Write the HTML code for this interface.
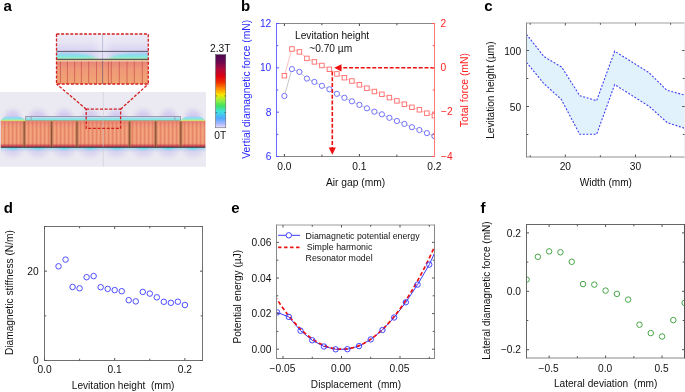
<!DOCTYPE html>
<html><head><meta charset="utf-8"><style>
html,body{margin:0;padding:0;background:#fff;}
svg{display:block;will-change:transform;}
text{font-family:"Liberation Sans", sans-serif;}
</style></head><body>
<svg width="685" height="392" viewBox="0 0 685 392">
<rect width="685" height="392" fill="#fff"/>
<defs>
<pattern id="stripes" width="4" height="30" patternUnits="userSpaceOnUse">
<rect width="4" height="30" fill="#ee9872"/><rect x="0" width="1.1" height="30" fill="#e6846a"/><rect x="2.2" width="1.0" height="30" fill="#f3aa82"/>
</pattern>
<pattern id="stripes2" width="2.2" height="30" patternUnits="userSpaceOnUse">
<rect width="2.2" height="30" fill="#ee9a76"/><rect x="0" width="0.9" height="30" fill="#e98a70"/>
</pattern>
<linearGradient id="orgV" x1="0" y1="0" x2="0" y2="1">
<stop offset="0" stop-color="#e05070" stop-opacity="0.45"/><stop offset="0.15" stop-color="#e06070" stop-opacity="0.12"/><stop offset="0.3" stop-color="#e06070" stop-opacity="0"/><stop offset="0.86" stop-color="#c03050" stop-opacity="0"/><stop offset="0.93" stop-color="#c02848" stop-opacity="0.55"/><stop offset="1" stop-color="#a02040" stop-opacity="0.8"/>
</linearGradient>
<linearGradient id="cb2" x1="0" y1="0" x2="0" y2="1">
<stop offset="0" stop-color="#4c0850"/><stop offset="0.1" stop-color="#6a0850"/><stop offset="0.2" stop-color="#b00838"/><stop offset="0.3" stop-color="#e00010"/><stop offset="0.38" stop-color="#f03000"/><stop offset="0.47" stop-color="#ff9000"/><stop offset="0.55" stop-color="#f8e800"/><stop offset="0.63" stop-color="#90f040"/><stop offset="0.7" stop-color="#40e060"/><stop offset="0.78" stop-color="#40e0e0"/><stop offset="0.87" stop-color="#50a8ff"/><stop offset="0.95" stop-color="#b0b8ff"/><stop offset="1" stop-color="#eae4ff"/>
</linearGradient>
<linearGradient id="insGradL" x1="0" y1="0" x2="1" y2="0">
<stop offset="0" stop-color="#fff" stop-opacity="0"/><stop offset="0.8" stop-color="#fff" stop-opacity="0"/><stop offset="1" stop-color="#e8e4f4" stop-opacity="0.95"/>
</linearGradient>
<linearGradient id="insGradR" x1="0" y1="0" x2="1" y2="0">
<stop offset="0" stop-color="#e8e4f4" stop-opacity="0.95"/><stop offset="0.3" stop-color="#fff" stop-opacity="0"/><stop offset="1" stop-color="#fff" stop-opacity="0"/>
</linearGradient>
<linearGradient id="insGrad" x1="0" y1="0" x2="0" y2="1">
<stop offset="0" stop-color="#d4d0f2"/><stop offset="0.3" stop-color="#b0d0f4"/><stop offset="0.65" stop-color="#84e6ea"/><stop offset="0.88" stop-color="#b8f0c0"/><stop offset="1" stop-color="#e0ec90"/>
</linearGradient>
<linearGradient id="insOrg" x1="0" y1="0" x2="0" y2="1">
<stop offset="0" stop-color="#e88478"/><stop offset="0.3" stop-color="#ee9878"/><stop offset="1" stop-color="#f2a674"/>
</linearGradient>
<linearGradient id="domeI" x1="0" y1="0" x2="0" y2="1">
<stop offset="0" stop-color="#b8c4f4"/><stop offset="0.25" stop-color="#98d4f2"/><stop offset="0.55" stop-color="#74eae6"/><stop offset="0.82" stop-color="#a8f0b8"/><stop offset="1" stop-color="#e8ec78"/>
</linearGradient>
<linearGradient id="cglow" x1="0" y1="0" x2="1" y2="0">
<stop offset="0" stop-color="#f4f2fa" stop-opacity="0"/><stop offset="0.5" stop-color="#f4f2fa" stop-opacity="0.6"/><stop offset="1" stop-color="#f4f2fa" stop-opacity="0"/>
</linearGradient>
<clipPath id="insClip"><rect x="56.5" y="51.4" width="91.8" height="8"/></clipPath>
<filter id="bl1" x="-10%" y="-50%" width="120%" height="200%"><feGaussianBlur stdDeviation="0.8"/></filter>
<linearGradient id="insTop" x1="0" y1="0" x2="0" y2="1">
<stop offset="0" stop-color="#eeedf6"/><stop offset="0.5" stop-color="#e6e3f4"/><stop offset="1" stop-color="#d8d2f2"/>
</linearGradient>
<linearGradient id="plate" x1="0" y1="0" x2="0" y2="1">
<stop offset="0" stop-color="#e0dcf4"/><stop offset="0.3" stop-color="#b8d8f4"/><stop offset="0.6" stop-color="#84e6ea"/><stop offset="1" stop-color="#8ce8cc"/>
</linearGradient>
<radialGradient id="haze" cx="0.5" cy="0.5" r="0.5">
<stop offset="0" stop-color="#c4baf0"/><stop offset="0.55" stop-color="#d2caf0" stop-opacity="0.7"/><stop offset="1" stop-color="#e4e2f0" stop-opacity="0"/>
</radialGradient>
<radialGradient id="hazeD" cx="0.5" cy="0.5" r="0.5">
<stop offset="0" stop-color="#cfc6f0"/><stop offset="0.6" stop-color="#d8d2f0" stop-opacity="0.6"/><stop offset="1" stop-color="#e4e2f0" stop-opacity="0"/>
</radialGradient>
<radialGradient id="glowU" cx="0.5" cy="0.5" r="0.5">
<stop offset="0" stop-color="#f0e060"/><stop offset="0.25" stop-color="#70e4e0"/><stop offset="0.6" stop-color="#a0c8f4" stop-opacity="0.6"/><stop offset="1" stop-color="#d8d0f0" stop-opacity="0"/>
</radialGradient>
<radialGradient id="glowC" cx="0.5" cy="0.5" r="0.5">
<stop offset="0" stop-color="#60e4e0"/><stop offset="0.5" stop-color="#80d8ec" stop-opacity="0.7"/><stop offset="1" stop-color="#c0d0f0" stop-opacity="0"/>
</radialGradient>
<linearGradient id="domeG" x1="0" y1="0" x2="0" y2="1">
<stop offset="0" stop-color="#c8c4f2" stop-opacity="0.3"/><stop offset="0.35" stop-color="#a0d4f4"/><stop offset="0.65" stop-color="#7ee8e0"/><stop offset="0.88" stop-color="#c8f080"/><stop offset="1" stop-color="#f0e860"/>
</linearGradient>
<linearGradient id="cyanD" x1="0" y1="0" x2="0" y2="1">
<stop offset="0" stop-color="#6ee2dc"/><stop offset="0.3" stop-color="#90d0f0" stop-opacity="0.8"/><stop offset="1" stop-color="#d0c8f0" stop-opacity="0"/>
</linearGradient>
</defs>
<rect x="0" y="92" width="206" height="74.7" fill="#ebe9f1"/>
<ellipse cx="12.7" cy="120" rx="12.3" ry="15" fill="url(#haze)"/>
<ellipse cx="12.7" cy="148" rx="14.2" ry="13" fill="url(#hazeD)"/>
<ellipse cx="37.9" cy="120" rx="13.9" ry="15" fill="url(#haze)"/>
<ellipse cx="37.9" cy="148" rx="16.0" ry="13" fill="url(#hazeD)"/>
<ellipse cx="64.2" cy="120" rx="13.5" ry="15" fill="url(#haze)"/>
<ellipse cx="64.2" cy="148" rx="15.6" ry="13" fill="url(#hazeD)"/>
<ellipse cx="90.2" cy="120" rx="13.6" ry="15" fill="url(#haze)"/>
<ellipse cx="90.2" cy="148" rx="15.7" ry="13" fill="url(#hazeD)"/>
<ellipse cx="116.6" cy="120" rx="13.8" ry="15" fill="url(#haze)"/>
<ellipse cx="116.6" cy="148" rx="16.0" ry="13" fill="url(#hazeD)"/>
<ellipse cx="143.1" cy="120" rx="13.7" ry="15" fill="url(#haze)"/>
<ellipse cx="143.1" cy="148" rx="15.8" ry="13" fill="url(#hazeD)"/>
<ellipse cx="168.6" cy="120" rx="12.7" ry="15" fill="url(#haze)"/>
<ellipse cx="168.6" cy="148" rx="14.7" ry="13" fill="url(#hazeD)"/>
<ellipse cx="193.1" cy="120" rx="12.7" ry="15" fill="url(#haze)"/>
<ellipse cx="193.1" cy="148" rx="14.7" ry="13" fill="url(#hazeD)"/>
<path d="M0.8,121 C2.5,113.5 22.5,113.5 25.6,121 Z" fill="url(#domeG)"/>
<path d="M180.6,121 C183.5,113.5 203,113.5 205.3,121 Z" fill="url(#domeG)"/>
<rect x="0.8" y="147.4" width="204.5" height="5" fill="url(#cyanD)" opacity="0.75"/>
<ellipse cx="12.7" cy="147.6" rx="9.5" ry="3.8" fill="url(#glowC)"/>
<ellipse cx="37.9" cy="147.6" rx="10.7" ry="3.8" fill="url(#glowC)"/>
<ellipse cx="64.2" cy="147.6" rx="10.4" ry="3.8" fill="url(#glowC)"/>
<ellipse cx="90.2" cy="147.6" rx="10.4" ry="3.8" fill="url(#glowC)"/>
<ellipse cx="116.6" cy="147.6" rx="10.6" ry="3.8" fill="url(#glowC)"/>
<ellipse cx="143.1" cy="147.6" rx="10.6" ry="3.8" fill="url(#glowC)"/>
<ellipse cx="168.6" cy="147.6" rx="9.8" ry="3.8" fill="url(#glowC)"/>
<ellipse cx="193.1" cy="147.6" rx="9.8" ry="3.8" fill="url(#glowC)"/>
<rect x="25.7" y="116.4" width="154.9" height="4.2" fill="url(#plate)" stroke="#80808a" stroke-width="0.7"/>
<line x1="31.2" y1="116.4" x2="31.2" y2="120.6" stroke="#8a8a9a" stroke-width="0.6"/>
<line x1="174.9" y1="116.4" x2="174.9" y2="120.6" stroke="#8a8a9a" stroke-width="0.6"/>
<rect x="0.8" y="121" width="204.5" height="26" fill="url(#stripes)"/>
<rect x="0.8" y="121" width="204.5" height="26" fill="url(#orgV)"/>
<rect x="22.599999999999998" y="121" width="3.2" height="26" fill="#b07050" opacity="0.65"/>
<rect x="23.7" y="121" width="1" height="26.5" fill="#6a3a20" opacity="0.65"/>
<rect x="49.9" y="121" width="3.2" height="26" fill="#b07050" opacity="0.65"/>
<rect x="51.0" y="121" width="1" height="26.5" fill="#6a3a20" opacity="0.65"/>
<rect x="75.4" y="121" width="3.2" height="26" fill="#b07050" opacity="0.65"/>
<rect x="76.5" y="121" width="1" height="26.5" fill="#6a3a20" opacity="0.65"/>
<rect x="128.0" y="121" width="3.2" height="26" fill="#b07050" opacity="0.65"/>
<rect x="129.1" y="121" width="1" height="26.5" fill="#6a3a20" opacity="0.65"/>
<rect x="154.0" y="121" width="3.2" height="26" fill="#b07050" opacity="0.65"/>
<rect x="155.1" y="121" width="1" height="26.5" fill="#6a3a20" opacity="0.65"/>
<rect x="179.20000000000002" y="121" width="3.2" height="26" fill="#b07050" opacity="0.65"/>
<rect x="180.3" y="121" width="1" height="26.5" fill="#6a3a20" opacity="0.65"/>
<line x1="103.3" y1="92" x2="103.3" y2="166.7" stroke="#c4c4d4" stroke-width="0.5"/>
<line x1="0.8" y1="147.3" x2="205.3" y2="147.3" stroke="#2a2a2a" stroke-width="0.9"/>
<line x1="0.8" y1="120.9" x2="205.3" y2="120.9" stroke="#c8c870" stroke-width="0.6"/>
<rect x="86.2" y="109.2" width="34.4" height="19.1" fill="none" stroke="#d21f1f" stroke-width="1.3" stroke-dasharray="3 1.6"/>
<line x1="86.2" y1="109.2" x2="56.5" y2="84" stroke="#d21f1f" stroke-width="1.3" stroke-dasharray="3 1.6"/>
<line x1="120.6" y1="109.2" x2="148.3" y2="84" stroke="#d21f1f" stroke-width="1.3" stroke-dasharray="3 1.6"/>
<rect x="56.5" y="34" width="91.8" height="17.4" fill="url(#insTop)"/>
<rect x="56.5" y="51.4" width="91.8" height="8" fill="#d6d2f2"/>
<g clip-path="url(#insClip)"><g filter="url(#bl1)">
<path d="M55,60 L55,53 C62,51.8 88,51.6 101.5,60 Z" fill="url(#domeI)"/>
<path d="M103.7,60 C117,51.6 142,51.8 150,53 L150,60 Z" fill="url(#domeI)"/>
</g></g>
<rect x="92" y="34" width="21" height="25.3" fill="url(#cglow)"/>
<rect x="56.5" y="59.6" width="91.8" height="2" fill="#e8c890"/>
<rect x="56.5" y="61.5" width="91.8" height="22.5" fill="url(#insOrg)"/>
<line x1="60.5" y1="61.5" x2="60.5" y2="84" stroke="#c84a48" stroke-width="0.65"/>
<line x1="67.4" y1="61.5" x2="67.4" y2="84" stroke="#c84a48" stroke-width="0.65"/>
<line x1="74.6" y1="61.5" x2="74.6" y2="84" stroke="#c84a48" stroke-width="0.65"/>
<line x1="81.4" y1="61.5" x2="81.4" y2="84" stroke="#c84a48" stroke-width="0.65"/>
<line x1="88.7" y1="61.5" x2="88.7" y2="84" stroke="#c84a48" stroke-width="0.65"/>
<line x1="96.5" y1="61.5" x2="96.5" y2="84" stroke="#c84a48" stroke-width="0.65"/>
<line x1="108.4" y1="61.5" x2="108.4" y2="84" stroke="#c84a48" stroke-width="0.65"/>
<line x1="111.3" y1="61.5" x2="111.3" y2="84" stroke="#c84a48" stroke-width="0.65"/>
<line x1="119.3" y1="61.5" x2="119.3" y2="84" stroke="#c84a48" stroke-width="0.65"/>
<line x1="127" y1="61.5" x2="127" y2="84" stroke="#c84a48" stroke-width="0.65"/>
<line x1="134.3" y1="61.5" x2="134.3" y2="84" stroke="#c84a48" stroke-width="0.65"/>
<line x1="142.3" y1="61.5" x2="142.3" y2="84" stroke="#c84a48" stroke-width="0.65"/>
<line x1="102.6" y1="34" x2="102.6" y2="61" stroke="#b0b4d0" stroke-width="0.8"/>
<line x1="102.6" y1="61" x2="102.6" y2="84" stroke="#806070" stroke-width="0.8"/>
<line x1="56.5" y1="51.4" x2="148.3" y2="51.4" stroke="#5a5a68" stroke-width="1"/>
<line x1="56.5" y1="59.3" x2="148.3" y2="59.3" stroke="#3a3a40" stroke-width="1"/>
<rect x="56.5" y="34" width="91.8" height="50" fill="none" stroke="#d21f1f" stroke-width="1.3" stroke-dasharray="3 1.6"/>
<rect x="215.6" y="54.6" width="10.2" height="73.2" fill="url(#cb2)" stroke="#555" stroke-width="0.5"/>
<line x1="215.6" y1="74" x2="217" y2="74" stroke="#333" stroke-width="0.6"/>
<line x1="224.4" y1="74" x2="225.8" y2="74" stroke="#333" stroke-width="0.6"/>
<line x1="215.6" y1="95.9" x2="217" y2="95.9" stroke="#333" stroke-width="0.6"/>
<line x1="224.4" y1="95.9" x2="225.8" y2="95.9" stroke="#333" stroke-width="0.6"/>
<line x1="215.6" y1="112.6" x2="217" y2="112.6" stroke="#333" stroke-width="0.6"/>
<line x1="224.4" y1="112.6" x2="225.8" y2="112.6" stroke="#333" stroke-width="0.6"/>
<text x="220.3" y="51.5" font-size="10.2" text-anchor="middle" fill="#111">2.3T</text>
<text x="220.3" y="138.6" font-size="10.2" text-anchor="middle" fill="#111">0T</text>
<text x="3.60" y="10.80" font-size="15" text-anchor="start" fill="#000" font-weight="bold" >a</text>
<text x="241.00" y="10.60" font-size="15" text-anchor="start" fill="#000" font-weight="bold" >b</text>
<text x="484.30" y="10.70" font-size="15" text-anchor="start" fill="#000" font-weight="bold" >c</text>
<text x="3.80" y="213.20" font-size="15" text-anchor="start" fill="#000" font-weight="bold" >d</text>
<text x="231.20" y="213.20" font-size="15" text-anchor="start" fill="#000" font-weight="bold" >e</text>
<text x="480.60" y="213.20" font-size="15" text-anchor="start" fill="#000" font-weight="bold" >f</text>
<clipPath id="cb"><rect x="276.5" y="23.5" width="158.0" height="133.0"/></clipPath>
<g clip-path="url(#cb)">
<polyline points="284.40,75.7 291.90,49 299.40,51.9 306.90,58.4 314.40,61.9 321.90,65.5 329.40,69.3 336.90,73.9 344.40,77.7 351.90,81 359.40,84.8 366.90,88.2 374.40,91.5 381.90,94.3 389.40,97.6 396.90,100.9 404.40,104.2 411.90,107.3 419.40,109.8 426.90,113.2 434.40,115.7" fill="none" stroke="#ffb0b0" stroke-width="0.8"/>
<polyline points="284.40,96 291.90,69.1 299.40,71.9 306.90,78.6 314.40,81.9 321.90,85.8 329.40,89.3 336.90,93.8 344.40,97.8 351.90,101.3 359.40,104.9 366.90,108.3 374.40,111.7 381.90,114.3 389.40,117.8 396.90,121 404.40,123.9 411.90,127.2 419.40,130 426.90,133.1 434.40,136.1" fill="none" stroke="#b8b8b8" stroke-width="0.8"/>
<rect x="282.15" y="73.45" width="4.5" height="4.5" fill="#fff" stroke="#ff6a6a" stroke-width="0.9"/>
<rect x="289.65" y="46.75" width="4.5" height="4.5" fill="#fff" stroke="#ff6a6a" stroke-width="0.9"/>
<rect x="297.15" y="49.65" width="4.5" height="4.5" fill="#fff" stroke="#ff6a6a" stroke-width="0.9"/>
<rect x="304.65" y="56.15" width="4.5" height="4.5" fill="#fff" stroke="#ff6a6a" stroke-width="0.9"/>
<rect x="312.15" y="59.65" width="4.5" height="4.5" fill="#fff" stroke="#ff6a6a" stroke-width="0.9"/>
<rect x="319.65" y="63.25" width="4.5" height="4.5" fill="#fff" stroke="#ff6a6a" stroke-width="0.9"/>
<rect x="327.15" y="67.05" width="4.5" height="4.5" fill="#fff" stroke="#ff6a6a" stroke-width="0.9"/>
<rect x="334.65" y="71.65" width="4.5" height="4.5" fill="#fff" stroke="#ff6a6a" stroke-width="0.9"/>
<rect x="342.15" y="75.45" width="4.5" height="4.5" fill="#fff" stroke="#ff6a6a" stroke-width="0.9"/>
<rect x="349.65" y="78.75" width="4.5" height="4.5" fill="#fff" stroke="#ff6a6a" stroke-width="0.9"/>
<rect x="357.15" y="82.55" width="4.5" height="4.5" fill="#fff" stroke="#ff6a6a" stroke-width="0.9"/>
<rect x="364.65" y="85.95" width="4.5" height="4.5" fill="#fff" stroke="#ff6a6a" stroke-width="0.9"/>
<rect x="372.15" y="89.25" width="4.5" height="4.5" fill="#fff" stroke="#ff6a6a" stroke-width="0.9"/>
<rect x="379.65" y="92.05" width="4.5" height="4.5" fill="#fff" stroke="#ff6a6a" stroke-width="0.9"/>
<rect x="387.15" y="95.35" width="4.5" height="4.5" fill="#fff" stroke="#ff6a6a" stroke-width="0.9"/>
<rect x="394.65" y="98.65" width="4.5" height="4.5" fill="#fff" stroke="#ff6a6a" stroke-width="0.9"/>
<rect x="402.15" y="101.95" width="4.5" height="4.5" fill="#fff" stroke="#ff6a6a" stroke-width="0.9"/>
<rect x="409.65" y="105.05" width="4.5" height="4.5" fill="#fff" stroke="#ff6a6a" stroke-width="0.9"/>
<rect x="417.15" y="107.55" width="4.5" height="4.5" fill="#fff" stroke="#ff6a6a" stroke-width="0.9"/>
<rect x="424.65" y="110.95" width="4.5" height="4.5" fill="#fff" stroke="#ff6a6a" stroke-width="0.9"/>
<rect x="432.15" y="113.45" width="4.5" height="4.5" fill="#fff" stroke="#ff6a6a" stroke-width="0.9"/>
<circle cx="284.40" cy="96" r="2.6" fill="#fff" stroke="#6262ff" stroke-width="0.9"/>
<circle cx="291.90" cy="69.1" r="2.6" fill="#fff" stroke="#6262ff" stroke-width="0.9"/>
<circle cx="299.40" cy="71.9" r="2.6" fill="#fff" stroke="#6262ff" stroke-width="0.9"/>
<circle cx="306.90" cy="78.6" r="2.6" fill="#fff" stroke="#6262ff" stroke-width="0.9"/>
<circle cx="314.40" cy="81.9" r="2.6" fill="#fff" stroke="#6262ff" stroke-width="0.9"/>
<circle cx="321.90" cy="85.8" r="2.6" fill="#fff" stroke="#6262ff" stroke-width="0.9"/>
<circle cx="329.40" cy="89.3" r="2.6" fill="#fff" stroke="#6262ff" stroke-width="0.9"/>
<circle cx="336.90" cy="93.8" r="2.6" fill="#fff" stroke="#6262ff" stroke-width="0.9"/>
<circle cx="344.40" cy="97.8" r="2.6" fill="#fff" stroke="#6262ff" stroke-width="0.9"/>
<circle cx="351.90" cy="101.3" r="2.6" fill="#fff" stroke="#6262ff" stroke-width="0.9"/>
<circle cx="359.40" cy="104.9" r="2.6" fill="#fff" stroke="#6262ff" stroke-width="0.9"/>
<circle cx="366.90" cy="108.3" r="2.6" fill="#fff" stroke="#6262ff" stroke-width="0.9"/>
<circle cx="374.40" cy="111.7" r="2.6" fill="#fff" stroke="#6262ff" stroke-width="0.9"/>
<circle cx="381.90" cy="114.3" r="2.6" fill="#fff" stroke="#6262ff" stroke-width="0.9"/>
<circle cx="389.40" cy="117.8" r="2.6" fill="#fff" stroke="#6262ff" stroke-width="0.9"/>
<circle cx="396.90" cy="121" r="2.6" fill="#fff" stroke="#6262ff" stroke-width="0.9"/>
<circle cx="404.40" cy="123.9" r="2.6" fill="#fff" stroke="#6262ff" stroke-width="0.9"/>
<circle cx="411.90" cy="127.2" r="2.6" fill="#fff" stroke="#6262ff" stroke-width="0.9"/>
<circle cx="419.40" cy="130" r="2.6" fill="#fff" stroke="#6262ff" stroke-width="0.9"/>
<circle cx="426.90" cy="133.1" r="2.6" fill="#fff" stroke="#6262ff" stroke-width="0.9"/>
<circle cx="434.40" cy="136.1" r="2.6" fill="#fff" stroke="#6262ff" stroke-width="0.9"/>
</g>
<line x1="434.30" y1="67.80" x2="340.50" y2="67.80" stroke="#ee1111" stroke-width="1.6" stroke-dasharray="4 1.8"/>
<polygon points="334.2,67.8 341.5,64.2 341.5,71.4" fill="#ee1111"/>
<line x1="332.30" y1="71.50" x2="332.30" y2="148.00" stroke="#ee1111" stroke-width="1.6" stroke-dasharray="4 1.8"/>
<polygon points="332.3,154.8 328.7,147.5 335.9,147.5" fill="#ee1111"/>
<line x1="276.50" y1="23.50" x2="434.50" y2="23.50" stroke="#888" stroke-width="1" />
<line x1="276.50" y1="156.50" x2="434.50" y2="156.50" stroke="#888" stroke-width="1" />
<line x1="276.50" y1="23.00" x2="276.50" y2="157.00" stroke="#6a6aff" stroke-width="1" />
<line x1="434.50" y1="23.00" x2="434.50" y2="157.00" stroke="#ff7a7a" stroke-width="1" />
<line x1="284.40" y1="23.50" x2="284.40" y2="26.00" stroke="#444" stroke-width="1" />
<line x1="284.40" y1="156.50" x2="284.40" y2="154.00" stroke="#444" stroke-width="1" />
<line x1="321.90" y1="23.50" x2="321.90" y2="25.30" stroke="#444" stroke-width="1" />
<line x1="321.90" y1="156.50" x2="321.90" y2="154.70" stroke="#444" stroke-width="1" />
<line x1="359.40" y1="23.50" x2="359.40" y2="26.00" stroke="#444" stroke-width="1" />
<line x1="359.40" y1="156.50" x2="359.40" y2="154.00" stroke="#444" stroke-width="1" />
<line x1="396.90" y1="23.50" x2="396.90" y2="25.30" stroke="#444" stroke-width="1" />
<line x1="396.90" y1="156.50" x2="396.90" y2="154.70" stroke="#444" stroke-width="1" />
<line x1="276.50" y1="23.50" x2="279.00" y2="23.50" stroke="#5555ff" stroke-width="1" />
<line x1="434.50" y1="23.50" x2="432.00" y2="23.50" stroke="#ff5555" stroke-width="1" />
<line x1="276.50" y1="45.67" x2="278.30" y2="45.67" stroke="#5555ff" stroke-width="1" />
<line x1="434.50" y1="45.67" x2="432.70" y2="45.67" stroke="#ff5555" stroke-width="1" />
<line x1="276.50" y1="67.83" x2="279.00" y2="67.83" stroke="#5555ff" stroke-width="1" />
<line x1="434.50" y1="67.83" x2="432.00" y2="67.83" stroke="#ff5555" stroke-width="1" />
<line x1="276.50" y1="90.00" x2="278.30" y2="90.00" stroke="#5555ff" stroke-width="1" />
<line x1="434.50" y1="90.00" x2="432.70" y2="90.00" stroke="#ff5555" stroke-width="1" />
<line x1="276.50" y1="112.17" x2="279.00" y2="112.17" stroke="#5555ff" stroke-width="1" />
<line x1="434.50" y1="112.17" x2="432.00" y2="112.17" stroke="#ff5555" stroke-width="1" />
<line x1="276.50" y1="134.33" x2="278.30" y2="134.33" stroke="#5555ff" stroke-width="1" />
<line x1="434.50" y1="134.33" x2="432.70" y2="134.33" stroke="#ff5555" stroke-width="1" />
<line x1="276.50" y1="156.50" x2="279.00" y2="156.50" stroke="#5555ff" stroke-width="1" />
<line x1="434.50" y1="156.50" x2="432.00" y2="156.50" stroke="#ff5555" stroke-width="1" />
<text x="271.30" y="27.10" font-size="10.2" text-anchor="end" fill="#2b2bff" font-weight="normal" >12</text>
<text x="271.30" y="71.43" font-size="10.2" text-anchor="end" fill="#2b2bff" font-weight="normal" >10</text>
<text x="271.30" y="115.77" font-size="10.2" text-anchor="end" fill="#2b2bff" font-weight="normal" >8</text>
<text x="271.30" y="160.10" font-size="10.2" text-anchor="end" fill="#2b2bff" font-weight="normal" >6</text>
<text x="440.40" y="27.10" font-size="10.2" text-anchor="start" fill="#ff2020" font-weight="normal" >2</text>
<text x="440.40" y="71.43" font-size="10.2" text-anchor="start" fill="#ff2020" font-weight="normal" >0</text>
<text x="441.00" y="114.87" font-size="10.2" text-anchor="start" fill="#ff2020" font-weight="normal" >−2</text>
<text x="441.00" y="160.00" font-size="10.2" text-anchor="start" fill="#ff2020" font-weight="normal" >−4</text>
<text x="284.40" y="169.80" font-size="10.2" text-anchor="middle" fill="#111" font-weight="normal" >0.0</text>
<text x="359.40" y="169.80" font-size="10.2" text-anchor="middle" fill="#111" font-weight="normal" >0.1</text>
<text x="434.40" y="169.80" font-size="10.2" text-anchor="middle" fill="#111" font-weight="normal" >0.2</text>
<text x="355.60" y="185.80" font-size="10.25" text-anchor="middle" fill="#111" font-weight="normal" >Air gap (mm)</text>
<text transform="translate(250.20,89.25) rotate(-90)" font-size="10.34" text-anchor="middle" fill="#2b2bff">Vertial diamagnetic force (mN)</text>
<text transform="translate(467.70,90.05) rotate(-90)" font-size="10.45" text-anchor="middle" fill="#ff2020">Total force (mN)</text>
<text x="295.00" y="39.00" font-size="10.2" text-anchor="start" fill="#111" font-weight="normal" >Levitation height</text>
<text x="309.20" y="51.60" font-size="10.2" text-anchor="start" fill="#111" font-weight="normal" >~0.70 µm</text>
<clipPath id="cc"><rect x="526.5" y="23.0" width="160.10000000000002" height="134.0"/></clipPath>
<g clip-path="url(#cc)">
<polygon points="526.4,34.3 544,56.6 561.7,67.1 579.7,95.7 596.6,100.7 614.7,51.2 648.9,72.6 666.8,90.2 686,95.5 686,128.7 667.2,122.6 649.4,106.5 614.7,84.6 596.6,134.3 579.7,134.3 561.3,99.4 544,83.7 526.4,62.3" fill="#e2f2fd" stroke="none"/>
<polyline points="526.4,34.3 544,56.6 561.7,67.1 579.7,95.7 596.6,100.7 614.7,51.2 648.9,72.6 666.8,90.2 686,95.5" fill="none" stroke="#4040f0" stroke-width="1.1" stroke-dasharray="2 1.6"/>
<polyline points="526.4,62.3 544,83.7 561.3,99.4 579.7,134.3 596.6,134.3 614.7,84.6 649.4,106.5 667.2,122.6 686,128.7" fill="none" stroke="#4040f0" stroke-width="1.1" stroke-dasharray="2 1.6"/>
</g>
<line x1="526.50" y1="23.00" x2="686.00" y2="23.00" stroke="#a0a0a0" stroke-width="1" />
<line x1="526.50" y1="157.00" x2="686.00" y2="157.00" stroke="#909090" stroke-width="1" />
<line x1="526.50" y1="22.50" x2="526.50" y2="157.50" stroke="#888" stroke-width="1" />
<line x1="684.60" y1="23.00" x2="684.60" y2="157.00" stroke="#eee" stroke-width="1" />
<line x1="530.20" y1="23.00" x2="530.20" y2="24.80" stroke="#555" stroke-width="1" />
<line x1="530.20" y1="157.00" x2="530.20" y2="155.20" stroke="#555" stroke-width="1" />
<line x1="565.30" y1="23.00" x2="565.30" y2="25.50" stroke="#555" stroke-width="1" />
<line x1="565.30" y1="157.00" x2="565.30" y2="154.50" stroke="#555" stroke-width="1" />
<line x1="600.40" y1="23.00" x2="600.40" y2="24.80" stroke="#555" stroke-width="1" />
<line x1="600.40" y1="157.00" x2="600.40" y2="155.20" stroke="#555" stroke-width="1" />
<line x1="635.50" y1="23.00" x2="635.50" y2="25.50" stroke="#555" stroke-width="1" />
<line x1="635.50" y1="157.00" x2="635.50" y2="154.50" stroke="#555" stroke-width="1" />
<line x1="670.60" y1="23.00" x2="670.60" y2="24.80" stroke="#555" stroke-width="1" />
<line x1="670.60" y1="157.00" x2="670.60" y2="155.20" stroke="#555" stroke-width="1" />
<line x1="526.50" y1="134.50" x2="528.30" y2="134.50" stroke="#555" stroke-width="1" />
<line x1="684.60" y1="134.50" x2="682.80" y2="134.50" stroke="#555" stroke-width="1" />
<line x1="526.50" y1="106.50" x2="529.00" y2="106.50" stroke="#555" stroke-width="1" />
<line x1="684.60" y1="106.50" x2="682.10" y2="106.50" stroke="#555" stroke-width="1" />
<line x1="526.50" y1="78.50" x2="528.30" y2="78.50" stroke="#555" stroke-width="1" />
<line x1="684.60" y1="78.50" x2="682.80" y2="78.50" stroke="#555" stroke-width="1" />
<line x1="526.50" y1="50.50" x2="529.00" y2="50.50" stroke="#555" stroke-width="1" />
<line x1="684.60" y1="50.50" x2="682.10" y2="50.50" stroke="#555" stroke-width="1" />
<text x="521.20" y="55.20" font-size="10.2" text-anchor="end" fill="#111" font-weight="normal" >100</text>
<text x="521.20" y="111.20" font-size="10.2" text-anchor="end" fill="#111" font-weight="normal" >50</text>
<text x="565.30" y="169.80" font-size="10.2" text-anchor="middle" fill="#111" font-weight="normal" >20</text>
<text x="635.50" y="169.80" font-size="10.2" text-anchor="middle" fill="#111" font-weight="normal" >30</text>
<text x="605.85" y="186.20" font-size="10.15" text-anchor="middle" fill="#111" font-weight="normal" >Width (mm)</text>
<text transform="translate(493.80,90.10) rotate(-90)" font-size="10.1" text-anchor="middle" fill="#111">Levitation height (µm)</text>
<circle cx="58.54" cy="266.3" r="2.75" fill="none" stroke="#4545ff" stroke-width="0.95"/>
<circle cx="65.56" cy="259.6" r="2.75" fill="none" stroke="#4545ff" stroke-width="0.95"/>
<circle cx="72.58" cy="287" r="2.75" fill="none" stroke="#4545ff" stroke-width="0.95"/>
<circle cx="79.60" cy="288.3" r="2.75" fill="none" stroke="#4545ff" stroke-width="0.95"/>
<circle cx="86.62" cy="277.2" r="2.75" fill="none" stroke="#4545ff" stroke-width="0.95"/>
<circle cx="93.64" cy="276.1" r="2.75" fill="none" stroke="#4545ff" stroke-width="0.95"/>
<circle cx="100.66" cy="287.2" r="2.75" fill="none" stroke="#4545ff" stroke-width="0.95"/>
<circle cx="107.68" cy="288.9" r="2.75" fill="none" stroke="#4545ff" stroke-width="0.95"/>
<circle cx="114.70" cy="290.1" r="2.75" fill="none" stroke="#4545ff" stroke-width="0.95"/>
<circle cx="121.72" cy="291.2" r="2.75" fill="none" stroke="#4545ff" stroke-width="0.95"/>
<circle cx="128.74" cy="300.2" r="2.75" fill="none" stroke="#4545ff" stroke-width="0.95"/>
<circle cx="135.76" cy="301.4" r="2.75" fill="none" stroke="#4545ff" stroke-width="0.95"/>
<circle cx="142.78" cy="291.9" r="2.75" fill="none" stroke="#4545ff" stroke-width="0.95"/>
<circle cx="149.80" cy="293.6" r="2.75" fill="none" stroke="#4545ff" stroke-width="0.95"/>
<circle cx="156.82" cy="297.3" r="2.75" fill="none" stroke="#4545ff" stroke-width="0.95"/>
<circle cx="163.84" cy="301.8" r="2.75" fill="none" stroke="#4545ff" stroke-width="0.95"/>
<circle cx="170.86" cy="302.8" r="2.75" fill="none" stroke="#4545ff" stroke-width="0.95"/>
<circle cx="177.88" cy="301.7" r="2.75" fill="none" stroke="#4545ff" stroke-width="0.95"/>
<circle cx="184.90" cy="305" r="2.75" fill="none" stroke="#4545ff" stroke-width="0.95"/>
<line x1="44.50" y1="226.50" x2="202.50" y2="226.50" stroke="#707070" stroke-width="1" />
<line x1="44.50" y1="360.50" x2="202.50" y2="360.50" stroke="#707070" stroke-width="1" />
<line x1="44.50" y1="226.00" x2="44.50" y2="361.00" stroke="#707070" stroke-width="1" />
<line x1="202.50" y1="226.00" x2="202.50" y2="361.00" stroke="#707070" stroke-width="1" />
<line x1="44.50" y1="226.50" x2="44.50" y2="229.00" stroke="#555" stroke-width="1" />
<line x1="44.50" y1="360.50" x2="44.50" y2="358.00" stroke="#555" stroke-width="1" />
<line x1="79.60" y1="226.50" x2="79.60" y2="228.30" stroke="#555" stroke-width="1" />
<line x1="79.60" y1="360.50" x2="79.60" y2="358.70" stroke="#555" stroke-width="1" />
<line x1="114.70" y1="226.50" x2="114.70" y2="229.00" stroke="#555" stroke-width="1" />
<line x1="114.70" y1="360.50" x2="114.70" y2="358.00" stroke="#555" stroke-width="1" />
<line x1="149.80" y1="226.50" x2="149.80" y2="228.30" stroke="#555" stroke-width="1" />
<line x1="149.80" y1="360.50" x2="149.80" y2="358.70" stroke="#555" stroke-width="1" />
<line x1="184.90" y1="226.50" x2="184.90" y2="229.00" stroke="#555" stroke-width="1" />
<line x1="184.90" y1="360.50" x2="184.90" y2="358.00" stroke="#555" stroke-width="1" />
<line x1="44.50" y1="360.50" x2="47.00" y2="360.50" stroke="#555" stroke-width="1" />
<line x1="202.50" y1="360.50" x2="200.00" y2="360.50" stroke="#555" stroke-width="1" />
<line x1="44.50" y1="315.83" x2="46.30" y2="315.83" stroke="#555" stroke-width="1" />
<line x1="202.50" y1="315.83" x2="200.70" y2="315.83" stroke="#555" stroke-width="1" />
<line x1="44.50" y1="271.17" x2="47.00" y2="271.17" stroke="#555" stroke-width="1" />
<line x1="202.50" y1="271.17" x2="200.00" y2="271.17" stroke="#555" stroke-width="1" />
<line x1="44.50" y1="226.50" x2="46.30" y2="226.50" stroke="#555" stroke-width="1" />
<line x1="202.50" y1="226.50" x2="200.70" y2="226.50" stroke="#555" stroke-width="1" />
<text x="38.60" y="364.10" font-size="10.2" text-anchor="end" fill="#111" font-weight="normal" >0</text>
<text x="38.60" y="274.77" font-size="10.2" text-anchor="end" fill="#111" font-weight="normal" >20</text>
<text x="44.50" y="373.30" font-size="10.2" text-anchor="middle" fill="#111" font-weight="normal" >0.0</text>
<text x="114.70" y="373.30" font-size="10.2" text-anchor="middle" fill="#111" font-weight="normal" >0.1</text>
<text x="184.90" y="373.30" font-size="10.2" text-anchor="middle" fill="#111" font-weight="normal" >0.2</text>
<text x="123.15" y="388.70" font-size="10.1" text-anchor="middle" fill="#111" font-weight="normal" >Levitation height&#160;&#160;(mm)</text>
<text transform="translate(13.40,292.60) rotate(-90)" font-size="10.2" text-anchor="middle" fill="#111">Diamagnetic stiffness (N/m)</text>
<clipPath id="ce"><rect x="276.5" y="225.0" width="158.0" height="133.5"/></clipPath>
<g clip-path="url(#ce)">
<polyline points="277.15,312.40 288.85,316.90 300.55,330.70 312.25,340.30 323.95,346.50 335.65,349.30 347.35,349.20 359.05,346.10 370.75,339.40 382.45,330.00 394.15,317.50 405.85,302.30 417.55,284.60 429.25,264.60 440.95,239.50" fill="none" stroke="#3a3aff" stroke-width="1"/>
<polyline points="274.81,295.91 275.98,297.76 277.15,299.57 278.32,301.35 279.49,303.10 280.66,304.82 281.83,306.50 283.00,308.16 284.17,309.78 285.34,311.36 286.51,312.92 287.68,314.44 288.85,315.93 290.02,317.38 291.19,318.80 292.36,320.20 293.53,321.55 294.70,322.88 295.87,324.17 297.04,325.43 298.21,326.66 299.38,327.86 300.55,329.02 301.72,330.15 302.89,331.25 304.06,332.31 305.23,333.35 306.40,334.35 307.57,335.31 308.74,336.25 309.91,337.15 311.08,338.02 312.25,338.86 313.42,339.66 314.59,340.43 315.76,341.17 316.93,341.88 318.10,342.55 319.27,343.20 320.44,343.81 321.61,344.38 322.78,344.93 323.95,345.44 325.12,345.92 326.29,346.36 327.46,346.78 328.63,347.16 329.80,347.51 330.97,347.82 332.14,348.10 333.31,348.36 334.48,348.57 335.65,348.76 336.82,348.91 337.99,349.03 339.16,349.12 340.33,349.18 341.50,349.20 342.67,349.19 343.84,349.15 345.01,349.07 346.18,348.96 347.35,348.82 348.52,348.65 349.69,348.45 350.86,348.21 352.03,347.94 353.20,347.64 354.37,347.30 355.54,346.93 356.71,346.53 357.88,346.10 359.05,345.63 360.22,345.13 361.39,344.60 362.56,344.04 363.73,343.44 364.90,342.81 366.07,342.15 367.24,341.46 368.41,340.73 369.58,339.97 370.75,339.18 371.92,338.36 373.09,337.50 374.26,336.61 375.43,335.69 376.60,334.74 377.77,333.75 378.94,332.73 380.11,331.68 381.28,330.59 382.45,329.48 383.62,328.33 384.79,327.14 385.96,325.93 387.13,324.68 388.30,323.40 389.47,322.09 390.64,320.74 391.81,319.36 392.98,317.95 394.15,316.51 395.32,315.04 396.49,313.53 397.66,311.99 398.83,310.41 400.00,308.81 401.17,307.17 402.34,305.50 403.51,303.79 404.68,302.06 405.85,300.29 407.02,298.49 408.19,296.65 409.36,294.79 410.53,292.89 411.70,290.96 412.87,288.99 414.04,287.00 415.21,284.97 416.38,282.90 417.55,280.81 418.72,278.68 419.89,276.52 421.06,274.33 422.23,272.11 423.40,269.85 424.57,267.56 425.74,265.24 426.91,262.88 428.08,260.49 429.25,258.07 430.42,255.62 431.59,253.14 432.76,250.62 433.93,248.07 435.10,245.48 436.27,242.87" fill="none" stroke="#ee1111" stroke-width="1.7" stroke-dasharray="4 2.5"/>
<circle cx="277.15" cy="312.40" r="2.7" fill="none" stroke="#3a3aff" stroke-width="0.95"/>
<circle cx="288.85" cy="316.90" r="2.7" fill="none" stroke="#3a3aff" stroke-width="0.95"/>
<circle cx="300.55" cy="330.70" r="2.7" fill="none" stroke="#3a3aff" stroke-width="0.95"/>
<circle cx="312.25" cy="340.30" r="2.7" fill="none" stroke="#3a3aff" stroke-width="0.95"/>
<circle cx="323.95" cy="346.50" r="2.7" fill="none" stroke="#3a3aff" stroke-width="0.95"/>
<circle cx="335.65" cy="349.30" r="2.7" fill="none" stroke="#3a3aff" stroke-width="0.95"/>
<circle cx="347.35" cy="349.20" r="2.7" fill="none" stroke="#3a3aff" stroke-width="0.95"/>
<circle cx="359.05" cy="346.10" r="2.7" fill="none" stroke="#3a3aff" stroke-width="0.95"/>
<circle cx="370.75" cy="339.40" r="2.7" fill="none" stroke="#3a3aff" stroke-width="0.95"/>
<circle cx="382.45" cy="330.00" r="2.7" fill="none" stroke="#3a3aff" stroke-width="0.95"/>
<circle cx="394.15" cy="317.50" r="2.7" fill="none" stroke="#3a3aff" stroke-width="0.95"/>
<circle cx="405.85" cy="302.30" r="2.7" fill="none" stroke="#3a3aff" stroke-width="0.95"/>
<circle cx="417.55" cy="284.60" r="2.7" fill="none" stroke="#3a3aff" stroke-width="0.95"/>
<circle cx="429.25" cy="264.60" r="2.7" fill="none" stroke="#3a3aff" stroke-width="0.95"/>
</g>
<line x1="276.50" y1="225.00" x2="434.50" y2="225.00" stroke="#9a9a9a" stroke-width="1" />
<line x1="276.50" y1="358.50" x2="434.50" y2="358.50" stroke="#808080" stroke-width="1" />
<line x1="276.50" y1="224.50" x2="276.50" y2="359.00" stroke="#888" stroke-width="1" />
<line x1="434.50" y1="224.50" x2="434.50" y2="359.00" stroke="#888" stroke-width="1" />
<line x1="283.00" y1="225.00" x2="283.00" y2="227.50" stroke="#555" stroke-width="1" />
<line x1="283.00" y1="358.50" x2="283.00" y2="356.00" stroke="#555" stroke-width="1" />
<line x1="312.25" y1="225.00" x2="312.25" y2="226.80" stroke="#555" stroke-width="1" />
<line x1="312.25" y1="358.50" x2="312.25" y2="356.70" stroke="#555" stroke-width="1" />
<line x1="341.50" y1="225.00" x2="341.50" y2="227.50" stroke="#555" stroke-width="1" />
<line x1="341.50" y1="358.50" x2="341.50" y2="356.00" stroke="#555" stroke-width="1" />
<line x1="370.75" y1="225.00" x2="370.75" y2="226.80" stroke="#555" stroke-width="1" />
<line x1="370.75" y1="358.50" x2="370.75" y2="356.70" stroke="#555" stroke-width="1" />
<line x1="400.00" y1="225.00" x2="400.00" y2="227.50" stroke="#555" stroke-width="1" />
<line x1="400.00" y1="358.50" x2="400.00" y2="356.00" stroke="#555" stroke-width="1" />
<line x1="429.25" y1="225.00" x2="429.25" y2="226.80" stroke="#555" stroke-width="1" />
<line x1="429.25" y1="358.50" x2="429.25" y2="356.70" stroke="#555" stroke-width="1" />
<line x1="276.50" y1="349.20" x2="279.00" y2="349.20" stroke="#555" stroke-width="1" />
<line x1="434.50" y1="349.20" x2="432.00" y2="349.20" stroke="#555" stroke-width="1" />
<line x1="276.50" y1="331.40" x2="278.30" y2="331.40" stroke="#555" stroke-width="1" />
<line x1="434.50" y1="331.40" x2="432.70" y2="331.40" stroke="#555" stroke-width="1" />
<line x1="276.50" y1="313.60" x2="279.00" y2="313.60" stroke="#555" stroke-width="1" />
<line x1="434.50" y1="313.60" x2="432.00" y2="313.60" stroke="#555" stroke-width="1" />
<line x1="276.50" y1="295.80" x2="278.30" y2="295.80" stroke="#555" stroke-width="1" />
<line x1="434.50" y1="295.80" x2="432.70" y2="295.80" stroke="#555" stroke-width="1" />
<line x1="276.50" y1="278.00" x2="279.00" y2="278.00" stroke="#555" stroke-width="1" />
<line x1="434.50" y1="278.00" x2="432.00" y2="278.00" stroke="#555" stroke-width="1" />
<line x1="276.50" y1="260.20" x2="278.30" y2="260.20" stroke="#555" stroke-width="1" />
<line x1="434.50" y1="260.20" x2="432.70" y2="260.20" stroke="#555" stroke-width="1" />
<line x1="276.50" y1="242.40" x2="279.00" y2="242.40" stroke="#555" stroke-width="1" />
<line x1="434.50" y1="242.40" x2="432.00" y2="242.40" stroke="#555" stroke-width="1" />
<text x="271.30" y="352.80" font-size="10.2" text-anchor="end" fill="#111" font-weight="normal" >0.00</text>
<text x="271.30" y="317.20" font-size="10.2" text-anchor="end" fill="#111" font-weight="normal" >0.02</text>
<text x="271.30" y="281.60" font-size="10.2" text-anchor="end" fill="#111" font-weight="normal" >0.04</text>
<text x="271.30" y="246.00" font-size="10.2" text-anchor="end" fill="#111" font-weight="normal" >0.06</text>
<text x="282.50" y="371.90" font-size="10.2" text-anchor="middle" fill="#111" font-weight="normal" >−0.05</text>
<text x="341.00" y="371.90" font-size="10.2" text-anchor="middle" fill="#111" font-weight="normal" >0.00</text>
<text x="399.50" y="371.90" font-size="10.2" text-anchor="middle" fill="#111" font-weight="normal" >0.05</text>
<text x="356.00" y="388.10" font-size="10.1" text-anchor="middle" fill="#111" font-weight="normal" >Displacement&#160;&#160;(mm)</text>
<text transform="translate(240.80,296.75) rotate(-90)" font-size="10.15" text-anchor="middle" fill="#111">Potential energy (µJ)</text>
<line x1="278.10" y1="235.30" x2="300.10" y2="235.30" stroke="#3a3aff" stroke-width="1" />
<circle cx="288.8" cy="235.3" r="2.7" fill="#fff" stroke="#3a3aff" stroke-width="0.95"/>
<line x1="278.10" y1="247.30" x2="300.10" y2="247.30" stroke="#ee1111" stroke-width="1.7" stroke-dasharray="3.4 2.6"/>
<text x="305.60" y="238.70" font-size="8.8" text-anchor="start" fill="#111" font-weight="normal" >Diamagnetic potential energy</text>
<text x="306.80" y="250.40" font-size="8.8" text-anchor="start" fill="#111" font-weight="normal" >Simple harmonic</text>
<text x="305.60" y="260.60" font-size="8.8" text-anchor="start" fill="#111" font-weight="normal" >Resonator model</text>
<clipPath id="cf"><rect x="526.5" y="224.5" width="158.0" height="133.5"/></clipPath>
<g clip-path="url(#cf)">
<circle cx="526.57" cy="279.6" r="2.75" fill="none" stroke="#3f9f3f" stroke-width="0.95"/>
<circle cx="537.86" cy="256.8" r="2.75" fill="none" stroke="#3f9f3f" stroke-width="0.95"/>
<circle cx="549.15" cy="251.4" r="2.75" fill="none" stroke="#3f9f3f" stroke-width="0.95"/>
<circle cx="560.44" cy="252.3" r="2.75" fill="none" stroke="#3f9f3f" stroke-width="0.95"/>
<circle cx="571.73" cy="261.8" r="2.75" fill="none" stroke="#3f9f3f" stroke-width="0.95"/>
<circle cx="583.02" cy="284.1" r="2.75" fill="none" stroke="#3f9f3f" stroke-width="0.95"/>
<circle cx="594.31" cy="284.6" r="2.75" fill="none" stroke="#3f9f3f" stroke-width="0.95"/>
<circle cx="605.60" cy="290.6" r="2.75" fill="none" stroke="#3f9f3f" stroke-width="0.95"/>
<circle cx="616.89" cy="293.9" r="2.75" fill="none" stroke="#3f9f3f" stroke-width="0.95"/>
<circle cx="628.18" cy="299.6" r="2.75" fill="none" stroke="#3f9f3f" stroke-width="0.95"/>
<circle cx="639.47" cy="324.7" r="2.75" fill="none" stroke="#3f9f3f" stroke-width="0.95"/>
<circle cx="650.76" cy="333.1" r="2.75" fill="none" stroke="#3f9f3f" stroke-width="0.95"/>
<circle cx="662.05" cy="336.5" r="2.75" fill="none" stroke="#3f9f3f" stroke-width="0.95"/>
<circle cx="673.34" cy="320.1" r="2.75" fill="none" stroke="#3f9f3f" stroke-width="0.95"/>
<circle cx="684.63" cy="302.9" r="2.75" fill="none" stroke="#3f9f3f" stroke-width="0.95"/>
</g>
<line x1="526.50" y1="224.50" x2="684.50" y2="224.50" stroke="#666" stroke-width="1" />
<line x1="526.50" y1="358.00" x2="684.50" y2="358.00" stroke="#8a8a8a" stroke-width="1" />
<line x1="526.50" y1="224.00" x2="526.50" y2="358.50" stroke="#666" stroke-width="1" />
<line x1="684.50" y1="224.00" x2="684.50" y2="358.50" stroke="#555" stroke-width="1" />
<line x1="549.15" y1="224.50" x2="549.15" y2="227.00" stroke="#555" stroke-width="1" />
<line x1="549.15" y1="358.00" x2="549.15" y2="355.50" stroke="#555" stroke-width="1" />
<line x1="577.38" y1="224.50" x2="577.38" y2="226.30" stroke="#555" stroke-width="1" />
<line x1="577.38" y1="358.00" x2="577.38" y2="356.20" stroke="#555" stroke-width="1" />
<line x1="605.60" y1="224.50" x2="605.60" y2="227.00" stroke="#555" stroke-width="1" />
<line x1="605.60" y1="358.00" x2="605.60" y2="355.50" stroke="#555" stroke-width="1" />
<line x1="633.83" y1="224.50" x2="633.83" y2="226.30" stroke="#555" stroke-width="1" />
<line x1="633.83" y1="358.00" x2="633.83" y2="356.20" stroke="#555" stroke-width="1" />
<line x1="662.05" y1="224.50" x2="662.05" y2="227.00" stroke="#555" stroke-width="1" />
<line x1="662.05" y1="358.00" x2="662.05" y2="355.50" stroke="#555" stroke-width="1" />
<line x1="526.50" y1="349.70" x2="529.00" y2="349.70" stroke="#555" stroke-width="1" />
<line x1="684.50" y1="349.70" x2="682.00" y2="349.70" stroke="#555" stroke-width="1" />
<line x1="526.50" y1="320.50" x2="528.30" y2="320.50" stroke="#555" stroke-width="1" />
<line x1="684.50" y1="320.50" x2="682.70" y2="320.50" stroke="#555" stroke-width="1" />
<line x1="526.50" y1="291.30" x2="529.00" y2="291.30" stroke="#555" stroke-width="1" />
<line x1="684.50" y1="291.30" x2="682.00" y2="291.30" stroke="#555" stroke-width="1" />
<line x1="526.50" y1="262.10" x2="528.30" y2="262.10" stroke="#555" stroke-width="1" />
<line x1="684.50" y1="262.10" x2="682.70" y2="262.10" stroke="#555" stroke-width="1" />
<line x1="526.50" y1="232.90" x2="529.00" y2="232.90" stroke="#555" stroke-width="1" />
<line x1="684.50" y1="232.90" x2="682.00" y2="232.90" stroke="#555" stroke-width="1" />
<text x="521.00" y="236.50" font-size="10.2" text-anchor="end" fill="#111" font-weight="normal" >0.2</text>
<text x="521.00" y="294.90" font-size="10.2" text-anchor="end" fill="#111" font-weight="normal" >0.0</text>
<text x="521.00" y="353.30" font-size="10.2" text-anchor="end" fill="#111" font-weight="normal" >−0.2</text>
<text x="548.65" y="371.80" font-size="10.2" text-anchor="middle" fill="#111" font-weight="normal" >−0.5</text>
<text x="605.10" y="371.80" font-size="10.2" text-anchor="middle" fill="#111" font-weight="normal" >0.0</text>
<text x="661.55" y="371.80" font-size="10.2" text-anchor="middle" fill="#111" font-weight="normal" >0.5</text>
<text x="605.65" y="386.90" font-size="10.15" text-anchor="middle" fill="#111" font-weight="normal" >Lateral deviation&#160;&#160;(mm)</text>
<text transform="translate(490.20,290.55) rotate(-90)" font-size="10.1" text-anchor="middle" fill="#111">Lateral diamagnetic force (mN)</text>
</svg>
</body></html>
